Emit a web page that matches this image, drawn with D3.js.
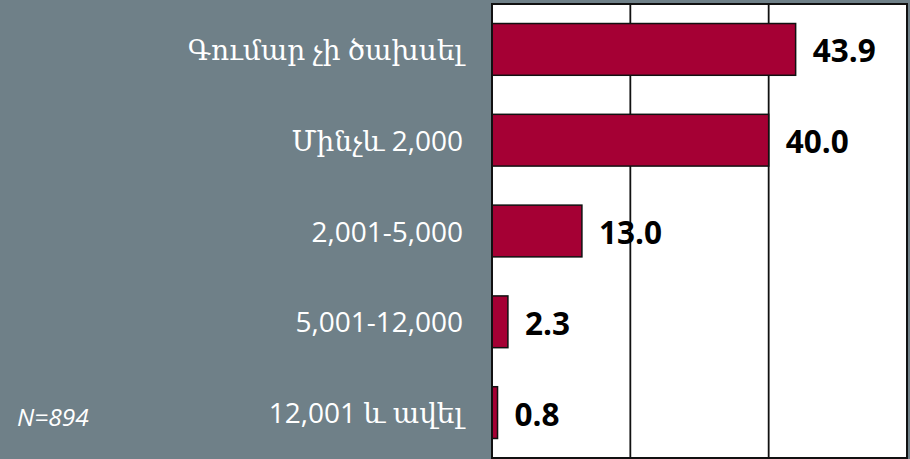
<!DOCTYPE html>
<html>
<head>
<meta charset="utf-8">
<script src="https://cdn.jsdelivr.net/npm/d3@7"></script>
<style>
  html, body { margin: 0; padding: 0; background: #6f8088; }
  svg { display: block; }
</style>
</head>
<body>
<svg id="chart" width="910" height="459"></svg>
<script>
const categories = ["Գումար չի ծախսել", "Մինչև 2,000", "2,001-5,000", "5,001-12,000", "12,001 և ավել"];
const values = [43.9, 40.0, 13.0, 2.3, 0.8];
const valueLabels = ["43.9", "40.0", "13.0", "2.3", "0.8"];
const gridTicks = [20, 40];
const note = "N=894";

const svg = d3.select("#chart");
const W = 910, H = 459;
const pLeft = 492, pRight = 907, pTop = 4, pBottom = 458;

svg.append("rect").attr("width", W).attr("height", H).attr("fill", "#6f8088");

const x = d3.scaleLinear().domain([0, 60]).range([pLeft, pRight]);
const y = d3.scaleBand().domain(categories).range([pTop, pBottom]).paddingInner(0.43).paddingOuter(0.215);

svg.append("rect")
  .attr("x", pLeft).attr("y", pTop)
  .attr("width", pRight - pLeft).attr("height", pBottom - pTop)
  .attr("fill", "#ffffff");

svg.append("g").selectAll("line").data(gridTicks).join("line")
  .attr("x1", d => x(d)).attr("x2", d => x(d))
  .attr("y1", pTop).attr("y2", pBottom)
  .attr("stroke", "#111").attr("stroke-width", 1.8);

svg.append("g").selectAll("rect").data(values).join("rect")
  .attr("x", x(0))
  .attr("y", (d, i) => y(categories[i]))
  .attr("width", d => x(d) - x(0))
  .attr("height", y.bandwidth())
  .attr("fill", "#a50034")
  .attr("stroke", "#111").attr("stroke-width", 1.5);

svg.append("rect")
  .attr("x", pLeft).attr("y", pTop)
  .attr("width", pRight - pLeft).attr("height", pBottom - pTop)
  .attr("fill", "none").attr("stroke", "#111").attr("stroke-width", 2);

svg.append("g").selectAll("text").data(values).join("text")
  .attr("x", d => x(d) + 17)
  .attr("y", (d, i) => y(categories[i]) + y.bandwidth() / 2)
  .attr("dy", "0.41em")
  .attr("font-family", "'Open Sans', sans-serif")
  .attr("font-weight", "bold")
  .attr("font-size", 31.5)
  .attr("fill", "#000")
  .text((d, i) => valueLabels[i]);

svg.append("g").selectAll("text").data(categories).join("text")
  .attr("x", 463)
  .attr("y", d => y(d) + y.bandwidth() / 2)
  .attr("dy", "0.38em")
  .attr("text-anchor", "end")
  .attr("font-family", "'Open Sans', 'DejaVu Serif', serif")
  .attr("font-size", 28)
  .attr("fill", "#ffffff")
  .text(d => d);

svg.append("text")
  .attr("x", 17).attr("y", 426)
  .attr("font-family", "'Open Sans', sans-serif")
  .attr("font-style", "italic")
  .attr("font-size", 24.5)
  .attr("fill", "#ffffff")
  .text(note);
</script>
</body>
</html>
